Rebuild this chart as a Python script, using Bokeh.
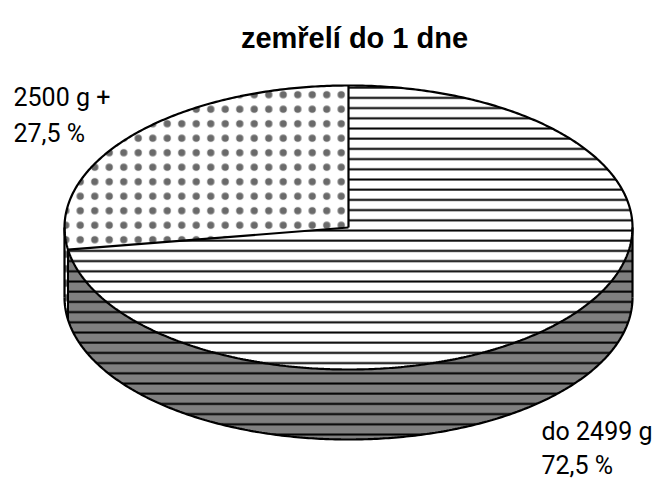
import numpy as np
from bokeh.plotting import figure
from bokeh.models import Range1d
from bokeh.core.properties import value
from bokeh.embed import file_html
from bokeh.resources import INLINE

# ---- data ----
title_text = "zemřelí do 1 dne"
categories = ["do 2499 g", "2500 g +"]
shares = [72.5, 27.5]
share_labels = ["72,5 %", "27,5 %"]

# ---- layout (pixels in page coordinates) ----
W, H = 652, 479
CX, CY, A, B, DEPTH = 348, 227, 284, 142, 70
GRAY = "#808080"

p = figure(width=W, height=H, x_range=Range1d(0, W), y_range=Range1d(H, 0),
           output_backend="svg", toolbar_location=None, min_border=0,
           x_axis_location=None, y_axis_location=None)
p.grid.visible = False
p.outline_line_color = None
p.background_fill_color = "white"
p.border_fill_color = "white"


def ell(theta_deg, dy=0.0):
    t = np.radians(theta_deg)
    return CX + A * np.cos(t), CY - B * np.sin(t) + dy


fracs = np.array(shares) / np.sum(shares)
cum = np.concatenate([[0.0], np.cumsum(fracs)])
angles = 90.0 - 360.0 * cum  # clockwise from 12 o'clock

top_styles = [
    dict(fill_color="white", hatch_pattern="horizontal_line", hatch_scale=10.2,
         hatch_weight=2, hatch_color="black"),
    dict(fill_color="white", hatch_pattern="dot", hatch_scale=14.5,
         hatch_weight=0.5, hatch_color="#6a6a6a"),
]
side_styles = [
    dict(fill_color=GRAY, hatch_pattern="horizontal_line", hatch_scale=10.2,
         hatch_weight=2, hatch_color="black"),
    dict(fill_color="white", hatch_pattern="dot", hatch_scale=14.5,
         hatch_weight=0.5, hatch_color="#6a6a6a"),
]

# sides (front half only: angles where sin < 0)
for i in range(len(shares)):
    hi, lo = angles[i], angles[i + 1]
    for k in range(-2, 2):
        v0, v1 = -180 + 360 * k, 0 + 360 * k
        s0, s1 = max(lo, v0), min(hi, v1)
        if s1 > s0:
            th = np.linspace(s0, s1, 200)
            xt, yt = ell(th)
            xb, yb = ell(th[::-1], DEPTH)
            p.patch(np.concatenate([xt, xb]), np.concatenate([yt, yb]),
                    line_color=None, **side_styles[i])

# top slices
for i in range(len(shares)):
    th = np.linspace(angles[i], angles[i + 1], 300)
    xt, yt = ell(th)
    p.patch(np.concatenate([[CX], xt]), np.concatenate([[CY], yt]),
            line_color=None, **top_styles[i])

# outlines
th = np.linspace(0, 360, 600)
xo, yo = ell(th)
p.line(xo, yo, line_color="black", line_width=2.2)
thb = np.linspace(180, 360, 300)
xb, yb = ell(thb, DEPTH)
p.line(xb, yb, line_color="black", line_width=2.2)
for ang in (180.0, 0.0):
    x0, y0 = ell(ang)
    p.line([x0, x0], [y0, y0 + DEPTH], line_color="black", line_width=2.2)
for ang in angles[:-1]:
    x1, y1 = ell(ang)
    p.line([CX, x1], [CY, y1], line_color="black", line_width=2.2)
    if np.sin(np.radians(ang)) < 0:
        p.line([x1, x1], [y1, y1 + DEPTH], line_color="black", line_width=2)

# labels
lab_font = value("Roboto")
p.text(x=[13, 13], y=[97, 133], text=[categories[1], share_labels[1]],
       text_font=lab_font, text_font_size="25px", text_color="black",
       text_baseline="alphabetic", text_align="left")
p.text(x=[541, 541], y=[431, 465], text=[categories[0], share_labels[0]],
       text_font=lab_font, text_font_size="25px", text_color="black",
       text_baseline="alphabetic", text_align="left")
p.text(x=[354], y=[37], text=[title_text], text_font=value("Liberation Sans"),
       text_font_style="bold", text_font_size="29px", text_color="black",
       text_baseline="alphabetic", text_align="center")

open("out.html", "w").write(file_html(p, INLINE))
